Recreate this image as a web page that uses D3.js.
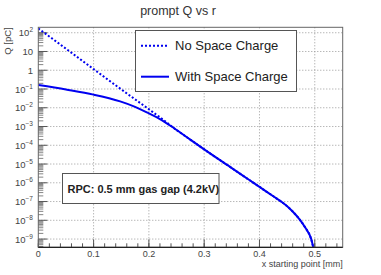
<!DOCTYPE html>
<html><head><meta charset="utf-8">
<script src="https://cdn.jsdelivr.net/npm/d3@7/dist/d3.min.js"></script>
<style>body{margin:0;background:#fff}svg{display:block;font-family:"Liberation Sans",Arial,sans-serif}</style>
</head><body><svg id="c" width="381" height="275"></svg>
<script>
// x starting point [mm]
const xNoSC = [0, 0.05, 0.1, 0.15, 0.2, 0.225, 0.245, 0.27, 0.3, 0.35, 0.383, 0.4, 0.425, 0.44, 0.45, 0.46, 0.4725, 0.483, 0.4935, 0.4985];
const log10QNoSC = [2.23, 1.15, 0.06, -1.02, -2.08, -2.62, -3.08, -3.6, -4.22, -5.22, -5.88, -6.22, -6.72, -7.02, -7.25, -7.53, -7.95, -8.4, -9.0, -9.6];
const xSC = [0, 0.05, 0.1, 0.148, 0.175, 0.2, 0.22, 0.245, 0.27, 0.3, 0.35, 0.383, 0.4, 0.425, 0.44, 0.45, 0.46, 0.4725, 0.483, 0.4935, 0.4985];
const log10QSC = [-0.79, -1.03, -1.3, -1.66, -1.95, -2.3, -2.6, -3.08, -3.6, -4.22, -5.22, -5.88, -6.22, -6.72, -7.02, -7.25, -7.53, -7.95, -8.4, -9.0, -9.6];
const xTicks = [0, 0.1, 0.2, 0.3, 0.4, 0.5];
const yDecades = [2, 1, 0, -1, -2, -3, -4, -5, -6, -7, -8, -9];
const seriesNames = ["No Space Charge", "With Space Charge"];
const title = "prompt Q vs r";
const xTitle = "x starting point [mm]";
const yTitle = "Q [pC]";
const note = "RPC: 0.5 mm gas gap (4.2kV)";

const svg = d3.select("#c");
const L = 38.3, R = 342.7, T = 27.3, B = 247.3;
const x = d3.scaleLinear().domain([0, 0.5505]).range([L, R]);
const y = d3.scaleLog().domain([Math.pow(10, -9.44), Math.pow(10, 2.29)]).range([B, T]);
const blue = "#0000f0";

// grid
const g = svg.append("g");
g.selectAll(".gx").data(xTicks.filter(d => d > 0)).join("line")
  .attr("x1", d => x(d)).attr("x2", d => x(d)).attr("y1", T).attr("y2", B)
  .attr("stroke", "#999").attr("stroke-width", 1).attr("stroke-dasharray", "1,2");
g.selectAll(".gy").data(yDecades).join("line")
  .attr("x1", L).attr("x2", R).attr("y1", d => y(Math.pow(10, d))).attr("y2", d => y(Math.pow(10, d)))
  .attr("stroke", "#999").attr("stroke-width", 1).attr("stroke-dasharray", "1,2");

// ticks x
const xMinor = d3.range(0, 0.551, 0.02);
svg.append("g").selectAll("line").data(xMinor).join("line")
  .attr("x1", d => x(d)).attr("x2", d => x(d)).attr("y1", B).attr("y2", B - 4)
  .attr("stroke", "#555");
svg.append("g").selectAll("line").data(xTicks).join("line")
  .attr("x1", d => x(d)).attr("x2", d => x(d)).attr("y1", B).attr("y2", B - 8)
  .attr("stroke", "#555");
// ticks y (log minor)
const yMinor = [];
for (let e = -10; e <= 2; e++) for (let m = 2; m <= 9; m++) {
  const v = m * Math.pow(10, e);
  if (v >= y.domain()[0] && v <= y.domain()[1]) yMinor.push(v);
}
svg.append("g").selectAll("line").data(yMinor).join("line")
  .attr("x1", L).attr("x2", L + 5).attr("y1", d => y(d)).attr("y2", d => y(d))
  .attr("stroke", "#666").attr("stroke-width", 0.8);
svg.append("g").selectAll("line").data(yDecades).join("line")
  .attr("x1", L).attr("x2", L + 9).attr("y1", d => y(Math.pow(10, d))).attr("y2", d => y(Math.pow(10, d)))
  .attr("stroke", "#555");

// clip
svg.append("clipPath").attr("id", "cp").append("rect").attr("x", L).attr("y", T).attr("width", R - L).attr("height", B - T);

const line = d3.line().x(d => x(d[0])).y(d => y(Math.pow(10, d[1]))).curve(d3.curveMonotoneX);
const plot = svg.append("g").attr("clip-path", "url(#cp)");
plot.append("path").datum(xNoSC.map((v, i) => [v, log10QNoSC[i]])).attr("d", line)
  .attr("fill", "none").attr("stroke", blue).attr("stroke-width", 2).attr("stroke-dasharray", "2,2");
plot.append("path").datum(xSC.map((v, i) => [v, log10QSC[i]])).attr("d", line)
  .attr("fill", "none").attr("stroke", blue).attr("stroke-width", 2);

// frame
svg.append("rect").attr("x", L).attr("y", T).attr("width", R - L).attr("height", B - T)
  .attr("fill", "none").attr("stroke", "#666").attr("stroke-width", 1);
svg.append("line").attr("x1", L).attr("x2", R).attr("y1", B).attr("y2", B).attr("stroke", "#222").attr("stroke-width", 1.3);

// x labels
svg.append("g").selectAll("text").data(xTicks).join("text")
  .attr("x", d => x(d)).attr("y", 256.5).attr("text-anchor", "middle")
  .attr("font-size", 9).attr("fill", "#444").text(d => d === 0 ? "0" : d3.format(".1f")(d));
svg.append("text").attr("x", R).attr("y", 266.5).attr("text-anchor", "end")
  .attr("font-size", 9).attr("fill", "#444").text(xTitle);

// y labels
const yl = svg.append("g").selectAll("text").data(yDecades).join("text")
  .attr("x", 33).attr("y", d => y(Math.pow(10, d)) + 3.5).attr("text-anchor", "end")
  .attr("font-size", 9.5).attr("fill", "#444");
yl.each(function(d) {
  const t = d3.select(this);
  if (d === 0) t.text("1");
  else if (d === 1) t.text("10");
  else {
    t.append("tspan").text("10");
    t.append("tspan").attr("font-size", 6.5).attr("dy", -4).text(d < 0 ? "\u2212" + (-d) : String(d));
  }
});
svg.append("text").attr("transform", `translate(11,${T}) rotate(-90)`).attr("text-anchor", "end")
  .attr("font-size", 9.5).attr("fill", "#444").text(yTitle);

// title
svg.append("text").attr("x", 178).attr("y", 15).attr("text-anchor", "middle")
  .attr("font-size", 12.5).attr("fill", "#333").text(title);

// legend
svg.append("rect").attr("x", 135.5).attr("y", 30.5).attr("width", 161).attr("height", 61)
  .attr("fill", "#fff").attr("stroke", "#555").attr("stroke-width", 1);
const legY = [45.7, 76.7];
svg.append("line").attr("x1", 141).attr("x2", 169).attr("y1", legY[0]).attr("y2", legY[0])
  .attr("stroke", blue).attr("stroke-width", 2).attr("stroke-dasharray", "2,2");
svg.append("line").attr("x1", 141).attr("x2", 169).attr("y1", legY[1]).attr("y2", legY[1])
  .attr("stroke", blue).attr("stroke-width", 2);
svg.append("g").selectAll("text").data(seriesNames).join("text")
  .attr("x", 175).attr("y", (d, i) => legY[i] + 4.5).attr("font-size", 13).attr("fill", "#222").text(d => d);

// note box
svg.append("rect").attr("x", 62.5).attr("y", 173.5).attr("width", 156.5).attr("height", 30)
  .attr("fill", "#fff").attr("stroke", "#555").attr("stroke-width", 1);
svg.append("text").attr("x", 67.5).attr("y", 192.5).attr("font-size", 11).attr("font-weight", "bold")
  .attr("fill", "#222").text(note);
</script></body></html>
